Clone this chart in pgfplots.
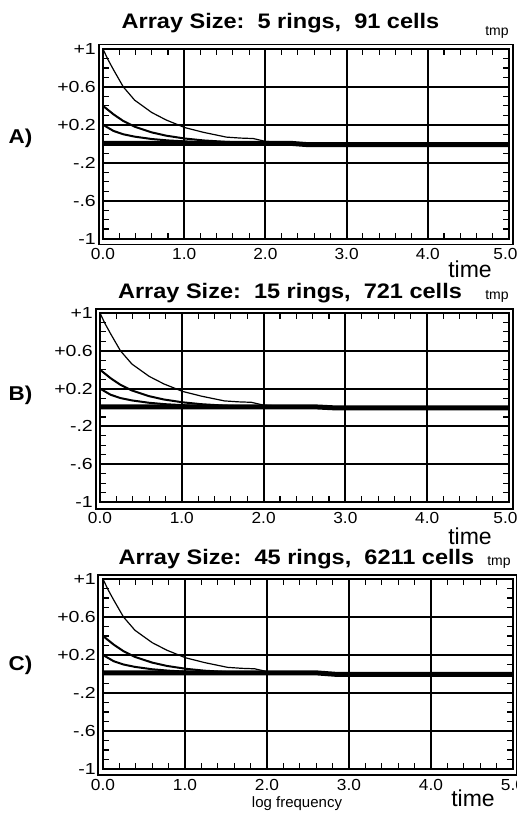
\documentclass[border=0pt]{standalone}
\usepackage{fontspec}
\setmainfont{Liberation Sans}
\newfontfamily\boldsans[FakeStretch=1.12]{Liberation Sans Bold}
\newfontfamily\wideysans[FakeStretch=1.22]{Liberation Sans}
\newfontfamily\widexsans[FakeStretch=1.08]{Liberation Sans}
\usepackage{pgfplots}
\usepackage{pgfplotstable}
\pgfplotsset{compat=1.18}

% relaxation of the three slowest modes (normalised amplitude vs. time)
\pgfplotstableread{
t v
0.00 1.00
0.06 0.89
0.13 0.78
0.25 0.60
0.39 0.46
0.60 0.33
0.78 0.25
1.01 0.17
1.24 0.12
1.52 0.07
1.69 0.06
1.85 0.055
2.00 0.025
2.20 0.015
2.50 0.00
}\modeone
\pgfplotstableread{
t v
0.00 0.40
0.13 0.31
0.25 0.24
0.39 0.18
0.60 0.12
0.78 0.085
1.01 0.055
1.24 0.035
1.52 0.02
1.80 0.01
2.10 0.005
}\modetwo
\pgfplotstableread{
t v
0.00 0.20
0.13 0.135
0.25 0.10
0.39 0.075
0.60 0.05
0.80 0.035
1.01 0.025
1.30 0.012
1.60 0.007
}\modethree
% the bundle of fast modes lying on the zero line
\pgfplotstableread{
t v
0.00 0.005
2.30 0.005
2.50 -0.008
5.00 -0.008
}\bundleA
\pgfplotstableread{
t v
0.00 0.008
2.60 0.008
2.85 -0.003
5.00 -0.003
}\bundleB
\pgfplotstableread{
t v
0.00 0.012
2.60 0.012
2.85 -0.004
5.00 -0.004
}\bundleC

\pgfplotsset{
  relaxpanel/.style={
    scale only axis,
    anchor=south west,
    xmin=0, xmax=5, ymin=-1, ymax=1,
    xtick={0,1,2,3,4,5},
    xticklabels={0.0,1.0,2.0,3.0,4.0,\hspace*{-7bp}5.0},
    ytick={-1,-0.6,-0.2,0.2,0.6,1},
    yticklabels={-1,-.6,-.2,+0.2,+0.6,+1},
    minor x tick num=4,
    minor y tick num=3,
    tick align=inside,
    major tick length=0pt,
    minor tick length=6bp,
    minor tick style={black, line width=1.1bp},
    grid=major,
    major grid style={black, line width=2bp},
    axis line style={line width=2bp},
    tick label style={inner sep=0pt},
    xticklabel style={font=\widexsans\fontsize{16bp}{18bp}\selectfont, yshift=-10bp},
    yticklabel style={font=\wideysans\fontsize{16bp}{18bp}\selectfont, xshift=-7bp},
  },
  every axis plot/.append style={black, no markers},
}
\tikzset{
  title/.style={anchor=base, inner sep=0pt, font=\boldsans\fontsize{21bp}{24bp}\selectfont},
  panel tag/.style={anchor=base, inner sep=0pt, font=\boldsans\fontsize{20bp}{24bp}\selectfont},
  unit tag/.style={anchor=base, inner sep=0pt, font=\fontsize{14bp}{16bp}\selectfont},
  time tag/.style={anchor=base, inner sep=0pt, font=\fontsize{23bp}{26bp}\selectfont},
}

\begin{document}
\begin{tikzpicture}
\useasboundingbox (0,0) rectangle (517bp,-815bp);

% ---------------- A ----------------
\begin{axis}[relaxpanel, name=A, at={(103bp,-238.5bp)}, width=406bp, height=189.5bp]
  \addplot[line width=5bp] table {\bundleA};
  \addplot[line width=2bp] table {\modethree};
  \addplot[line width=2bp] table {\modetwo};
  \addplot[line width=1.2bp] table {\modeone};
\end{axis}
\draw[line width=1.3bp] ([shift={(-4bp,-6bp)}]A.south west) rectangle ([shift={(4bp,4.5bp)}]A.north east);
\node[title] at (280.5bp,-28bp) {Array Size:\ \ 5 rings,\ \ 91 cells};
\node[panel tag] at (20.5bp,-143bp) {A)};
\node[unit tag] at (497bp,-35bp) {tmp};
\node[time tag] at (470bp,-277bp) {time};

% ---------------- B ----------------
\begin{axis}[relaxpanel, name=B, at={(100bp,-502bp)}, width=409bp, height=189bp]
  \addplot[line width=5bp] table {\bundleB};
  \addplot[line width=2bp] table {\modethree};
  \addplot[line width=2bp] table {\modetwo};
  \addplot[line width=1.2bp] table {\modeone};
\end{axis}
\draw[line width=1.3bp] ([shift={(-4bp,-7bp)}]B.south west) rectangle ([shift={(4bp,4bp)}]B.north east);
\node[title] at (290bp,-298bp) {Array Size:\ \ 15 rings,\ \ 721 cells};
\node[panel tag] at (20.5bp,-400bp) {B)};
\node[unit tag] at (497bp,-299bp) {tmp};
\node[time tag] at (470bp,-544bp) {time};

% ---------------- C ----------------
\begin{axis}[relaxpanel, name=C, at={(103bp,-769bp)}, width=410bp, height=190bp,
  xticklabels={0.0,1.0,2.0,3.0,4.0,5.0}]
  \addplot[line width=5bp] table {\bundleC};
  \addplot[line width=2bp] table {\modethree};
  \addplot[line width=2bp] table {\modetwo};
  \addplot[line width=1.2bp] table {\modeone};
\end{axis}
\draw[line width=1.3bp] ([shift={(-5bp,-6bp)}]C.south west) rectangle ([shift={(4bp,4bp)}]C.north east);
\node[title] at (296.5bp,-564bp) {Array Size:\ \ 45 rings,\ \ 6211 cells};
\node[panel tag] at (20.5bp,-670bp) {C)};
\node[unit tag] at (499bp,-565bp) {tmp};
\node[time tag] at (473bp,-806bp) {time};
\node[anchor=base, inner sep=0pt, font=\fontsize{15bp}{18bp}\selectfont] at (297bp,-807bp) {log frequency};
\end{tikzpicture}
\end{document}
